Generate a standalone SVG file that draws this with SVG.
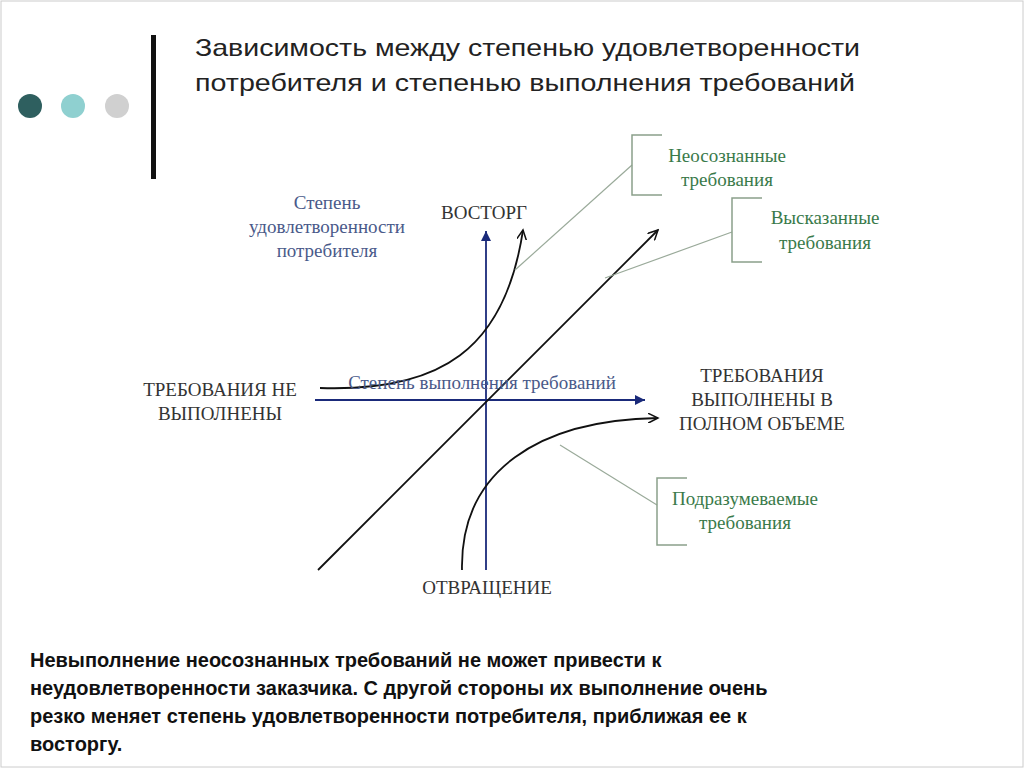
<svg xmlns="http://www.w3.org/2000/svg" width="1024" height="768" viewBox="0 0 1024 768">
<defs>
<marker id="a" markerWidth="12" markerHeight="10" refX="10" refY="5" orient="auto" markerUnits="userSpaceOnUse"><path d="M0,0 L10,5 L0,10" fill="none" stroke="#111" stroke-width="1.5"/></marker>
<marker id="b" markerWidth="12" markerHeight="10" refX="10" refY="5" orient="auto" markerUnits="userSpaceOnUse"><path d="M0,0 L10,5 L0,10 Z" fill="#1a2a7a"/></marker>
</defs>
<style>
.t{font-family:"Liberation Sans",Arial,sans-serif;font-size:24px;fill:#222}
.s{font-family:"Liberation Serif","Times New Roman",serif;font-size:19px}
.g{fill:#3a7a4a}
.bl{fill:#4a5a8a}
.k{fill:#333}
.br{fill:none;stroke:#8aa08a;stroke-width:1.5}
.ld{stroke:#9aaa9a;stroke-width:1.2}
.btm{font-family:"Liberation Sans",Arial,sans-serif;font-size:20px;font-weight:bold;fill:#111}
</style>
<rect width="1024" height="768" fill="#fff"/>
<rect x="1" y="1" width="1022" height="766" fill="none" stroke="#ccc"/>
<rect x="151" y="35" width="5" height="144" fill="#111"/>
<circle cx="30" cy="106" r="12" fill="#2e5f5f"/>
<circle cx="73" cy="106" r="12" fill="#8fd0d0"/>
<circle cx="117" cy="106" r="12" fill="#d0d0d0"/>
<text class="t" x="195" y="56" textLength="665" lengthAdjust="spacingAndGlyphs">Зависимость между степенью удовлетворенности</text>
<text class="t" x="195" y="91" textLength="660" lengthAdjust="spacingAndGlyphs">потребителя и степенью выполнения требований</text>
<g id="connectors" fill="none">
<line x1="486" y1="570" x2="486" y2="231" stroke="#1a2a7a" stroke-width="1.8" marker-end="url(#b)"/>
<line x1="315" y1="400" x2="645" y2="400" stroke="#1a2a7a" stroke-width="1.8" marker-end="url(#b)"/>
<line x1="318" y1="570" x2="658" y2="230" stroke="#111" stroke-width="1.8" marker-end="url(#a)"/>
<path d="M320,388 C440,392 505,350 523,230" stroke="#111" stroke-width="1.8" marker-end="url(#a)"/>
<path d="M462,570 C460,470 540,420 658,418" stroke="#111" stroke-width="1.8" marker-end="url(#a)"/>
<line class="ld" x1="632" y1="165" x2="515" y2="270"/>
<line class="ld" x1="732" y1="232" x2="605" y2="278"/>
<line class="ld" x1="657" y1="505" x2="560" y2="445"/>
</g>
<g id="n1"><path class="br" d="M662,135 H632 V195 H662"/><text class="s g" x="727" y="162" text-anchor="middle">Неосознанные</text><text class="s g" x="727" y="186" text-anchor="middle">требования</text></g>
<g id="n2"><path class="br" d="M762,198 H732 V262 H762"/><text class="s g" x="825" y="224" text-anchor="middle">Высказанные</text><text class="s g" x="825" y="249" text-anchor="middle">требования</text></g>
<g id="n3"><path class="br" d="M687,478 H657 V545 H687"/><text class="s g" x="745" y="505" text-anchor="middle">Подразумеваемые</text><text class="s g" x="745" y="529" text-anchor="middle">требования</text></g>
<g id="ylabel"><text class="s bl" x="327" y="209" text-anchor="middle">Степень</text><text class="s bl" x="327" y="233" text-anchor="middle">удовлетворенности</text><text class="s bl" x="327" y="257" text-anchor="middle">потребителя</text></g>
<g id="vostorg"><text class="s k" x="484" y="219" text-anchor="middle">ВОСТОРГ</text></g>
<g id="ne"><text class="s k" x="220" y="396" text-anchor="middle">ТРЕБОВАНИЯ НЕ</text><text class="s k" x="220" y="420" text-anchor="middle">ВЫПОЛНЕНЫ</text></g>
<g id="xlabel"><text class="s bl" x="482" y="389" text-anchor="middle">Степень выполнения требований</text></g>
<g id="full"><text class="s k" x="762" y="382" text-anchor="middle">ТРЕБОВАНИЯ</text><text class="s k" x="762" y="406" text-anchor="middle">ВЫПОЛНЕНЫ В</text><text class="s k" x="762" y="430" text-anchor="middle">ПОЛНОМ ОБЪЕМЕ</text></g>
<g id="otvr"><text class="s k" x="487" y="594" text-anchor="middle">ОТВРАЩЕНИЕ</text></g>
<text class="btm" x="30" y="667">Невыполнение неосознанных требований не может привести к</text>
<text class="btm" x="30" y="695">неудовлетворенности заказчика. С другой стороны их выполнение очень</text>
<text class="btm" x="30" y="723">резко меняет степень удовлетворенности потребителя, приближая ее к</text>
<text class="btm" x="30" y="751">восторгу.</text>
</svg>
